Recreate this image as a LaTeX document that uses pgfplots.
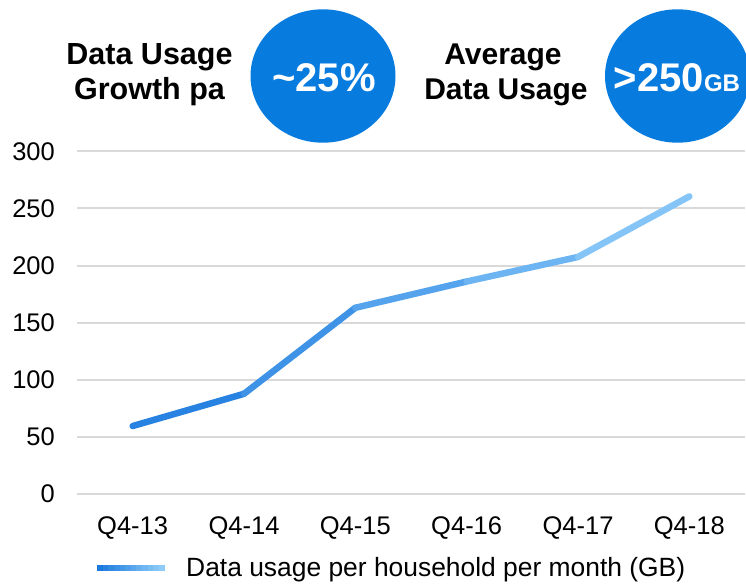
\documentclass[border=0pt]{standalone}
\usepackage{fontspec}
\setmainfont{Liberation Sans}
\usepackage{pgfplots}
\pgfplotsset{compat=1.18}
\definecolor{circblue}{HTML}{077BDE}
\definecolor{lnA}{RGB}{27,122,222}
\definecolor{lnB}{RGB}{143,204,250}
\definecolor{gridc}{HTML}{D9D9D9}
\pgfplotsset{gradlegend/.style={legend image code/.code={%
    \foreach \i in {0,...,11}{%
      \pgfmathsetmacro{\pc}{100-\i*100/11}%
      \path[draw=none, fill=lnA!\pc!lnB] (\i*5.6pt,-3pt) rectangle (\i*5.6pt+5.9pt,3pt);%
    }%
    \path[draw=none] (0pt,0pt) -- (89pt,0pt);}}}
\begin{document}
\begin{tikzpicture}[x=1pt,y=1pt]
\useasboundingbox (0,0) rectangle (746,586);
\begin{axis}[
  at={(77pt,92pt)}, anchor=south west,
  scale only axis, width=668pt, height=342.7pt,
  xmin=-0.5, xmax=5.5, ymin=0, ymax=300,
  xtick={0,...,5}, xticklabels={Q4-13,Q4-14,Q4-15,Q4-16,Q4-17,Q4-18},
  ytick={0,50,...,300},
  ymajorgrids, grid style={gridc, line width=2pt},
  axis line style={draw=none}, tick style={draw=none},
  /pgf/number format/assume math mode=true,
  tick label style={font=\fontsize{25.5}{30}\selectfont, inner sep=0pt},
  yticklabel style={anchor=east, xshift=-22pt},
  xticklabel style={anchor=north, yshift=-22pt},
  clip=false,
  colormap={bl}{rgb255=(27,122,222) rgb255=(143,204,250)},
  legend style={draw=none, fill=none, at={(0.03,-0.216)}, anchor=west, inner sep=0pt, font=\fontsize{26.4}{30}\selectfont, nodes={inner sep=0pt}},
]
\addplot[mesh, point meta=x, line width=6.5pt, line cap=round, line join=round, gradlegend] coordinates {(0,59.5) (1,87.7) (2,163) (3,186) (4,207.5) (5,260.5)};
\addlegendentry{Data usage per household per month (GB)}
\end{axis}
\fill[circblue] (323,510) ellipse (72.5 and 66.7);
\fill[circblue] (677.5,510) ellipse (72.5 and 66.7);
\node[anchor=base, text=white, font=\fontsize{40}{48}\selectfont\bfseries, inner sep=0pt] at (324,494.3) {\textasciitilde 25\%};
\node[anchor=base, text=white, font=\fontsize{40}{48}\selectfont\bfseries, inner sep=0pt] at (677,494.3) {>250{\fontsize{24}{28}\selectfont GB}};
\node[anchor=base, font=\fontsize{30.5}{36}\selectfont\bfseries, inner sep=0pt] at (149.5,521) {Data Usage};
\node[anchor=base, font=\fontsize{30.5}{36}\selectfont\bfseries, inner sep=0pt] at (149.5,486) {Growth pa};
\node[anchor=base, font=\fontsize{30}{36}\selectfont\bfseries, inner sep=0pt] at (503,521) {Average};
\node[anchor=base, font=\fontsize{30}{36}\selectfont\bfseries, inner sep=0pt] at (506,486) {Data Usage};
\end{tikzpicture}
\end{document}
